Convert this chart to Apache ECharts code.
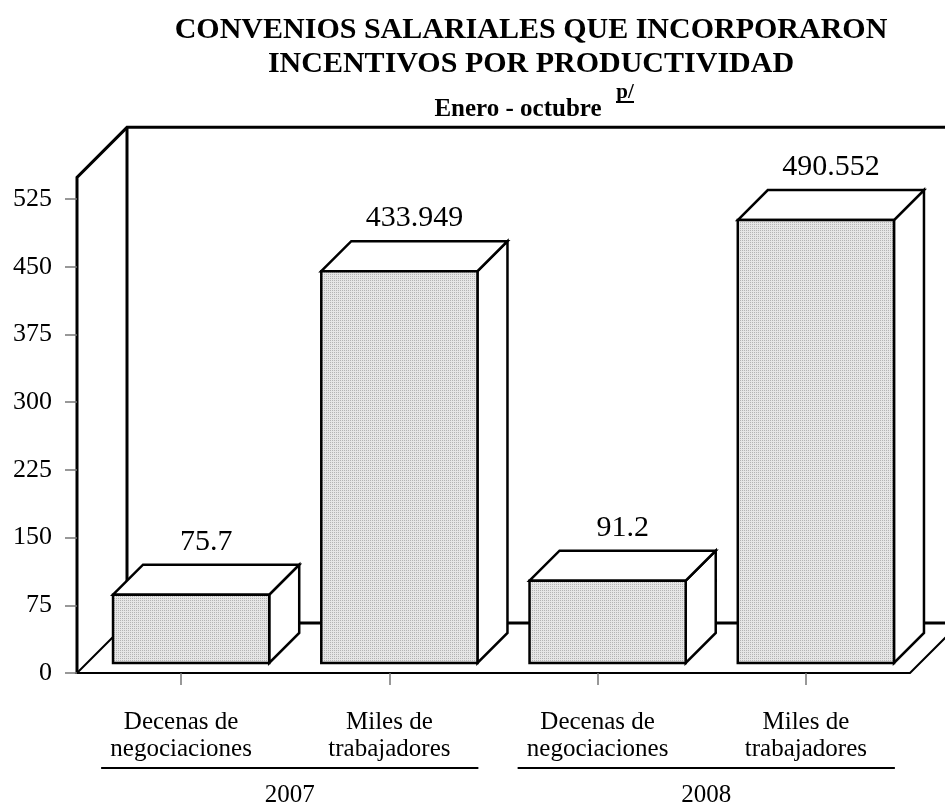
<!DOCTYPE html>
<html>
<head>
<meta charset="utf-8">
<script src="https://cdn.jsdelivr.net/npm/echarts@6/dist/echarts.min.js"></script>
<style>
  html, body { margin: 0; padding: 0; background: #fff; }
  #chart { width: 945px; height: 804px; }
</style>
</head>
<body>
<div id="chart"></div>
<script>
  // datos
  const categories = ['Decenas de\nnegociaciones', 'Miles de\ntrabajadores', 'Decenas de\nnegociaciones', 'Miles de\ntrabajadores']
  const values = [75.7, 433.949, 91.2, 490.552]
  const years = ['2007', '2008']
  const yMax = 525
  const yStep = 75

  const FONT = '"Liberation Serif", "Times New Roman", serif'
  const DEPTH = 50      // profundidad del piso / pared
  const BAR_OFF = 10    // la barra empieza un poco adentro del piso
  const BAR_DEPTH = 30
  const WALL_TOP = 549

  // textura punteada de las barras
  function makePattern () {
    let c = document.createElement('canvas')
    c.width = 2
    c.height = 2
    let ctx = c.getContext('2d')
    ctx.fillStyle = '#e6e6e6'
    ctx.fillRect(0, 0, 2, 2)
    ctx.fillStyle = '#b4b4b4'
    ctx.fillRect(0, 0, 1, 1)
    return c
  }
  const pattern = { image: makePattern(), repeat: 'repeat' }

  function renderBar (params, api) {
    let i = api.value(0)
    let v = api.value(1)
    let base = api.coord([i, 0])
    let top = api.coord([i, v])
    let bw = api.size([1, 0])[0] * 0.75
    let x0 = base[0] - bw / 2 + BAR_OFF
    let x1 = x0 + bw
    let yb = base[1] - BAR_OFF
    let yt = top[1] - BAR_OFF
    let d = BAR_DEPTH
    let line = { stroke: '#000', lineWidth: 2.5, lineJoin: 'miter' }
    return {
      type: 'group',
      children: [
        {
          type: 'polygon',
          shape: { points: [[x1, yt], [x1 + d, yt - d], [x1 + d, yb - d], [x1, yb]] },
          style: Object.assign({ fill: '#fff' }, line)
        },
        {
          type: 'polygon',
          shape: { points: [[x0, yt], [x0 + d, yt - d], [x1 + d, yt - d], [x1, yt]] },
          style: Object.assign({ fill: '#fff' }, line)
        },
        {
          type: 'rect',
          shape: { x: x0, y: yt, width: bw, height: yb - yt },
          style: Object.assign({ fill: pattern }, line)
        },
        {
          type: 'text',
          x: x0 + bw / 2 + d / 2,
          y: yt - d - 23,
          style: {
            text: String(v),
            font: '30px ' + FONT,
            fill: '#000',
            align: 'center',
            verticalAlign: 'middle',
            textAlign: 'center',
            textVerticalAlign: 'middle'
          }
        }
      ]
    }
  }

  let chart = echarts.init(document.getElementById('chart'))
  chart.setOption({
    backgroundColor: '#fff',
    animation: false,
    grid: { left: 77, right: 35, top: 199, bottom: 131 },
    xAxis: {
      type: 'category',
      data: categories,
      axisLine: { show: false },
      axisTick: { show: true, alignWithLabel: true, length: 12, lineStyle: { color: '#777', width: 1.5 } },
      axisLabel: { color: '#000', fontFamily: FONT, fontSize: 25, lineHeight: 27, margin: 36 },
      splitLine: { show: false }
    },
    yAxis: {
      type: 'value',
      min: 0,
      max: yMax,
      interval: yStep,
      axisLine: { show: false },
      axisTick: { show: true, length: 12, lineStyle: { color: '#777', width: 1.5 } },
      axisLabel: { color: '#000', fontFamily: FONT, fontSize: 26, margin: 25 },
      splitLine: { show: false }
    },
    series: [{
      type: 'custom',
      renderItem: renderBar,
      data: values.map((v, i) => [i, v]),
      z: 5
    }]
  })

  // paredes, piso, títulos y años
  const cx = i => chart.convertToPixel({ xAxisIndex: 0 }, i)
  const cy = v => chart.convertToPixel({ yAxisIndex: 0 }, v)
  let band = cx(1) - cx(0)
  let xL = cx(0) - band / 2
  let xR = cx(categories.length - 1) + band / 2
  let y0 = cy(0)
  let yT = cy(WALL_TOP)
  let D = DEPTH
  let wall = { stroke: '#000', lineWidth: 3, fill: null }
  let floor = { stroke: '#000', lineWidth: 2, fill: null }

  let graphics = [
    { type: 'polyline', shape: { points: [[xL, y0], [xL, yT], [xL + D, yT - D], [xR + D + 20, yT - D]] }, style: wall },
    { type: 'polyline', shape: { points: [[xL + D, yT - D], [xL + D, y0 - D], [xR + D + 20, y0 - D]] }, style: wall },
    { type: 'polyline', shape: { points: [[xL + D, y0 - D], [xL, y0], [xR, y0], [xR + D, y0 - D]] }, style: floor },
    {
      type: 'text', x: 531, y: 30,
      style: { text: 'CONVENIOS SALARIALES QUE INCORPORARON', font: 'bold 30px ' + FONT, fill: '#000', align: 'center', verticalAlign: 'middle', textAlign: 'center', textVerticalAlign: 'middle' }
    },
    {
      type: 'text', x: 531, y: 64,
      style: { text: 'INCENTIVOS POR PRODUCTIVIDAD', font: 'bold 30px ' + FONT, fill: '#000', align: 'center', verticalAlign: 'middle', textAlign: 'center', textVerticalAlign: 'middle' }
    },
    {
      type: 'text', x: 518, y: 110,
      style: { text: 'Enero - octubre', font: 'bold 25px ' + FONT, fill: '#000', align: 'center', verticalAlign: 'middle', textAlign: 'center', textVerticalAlign: 'middle' }
    },
    {
      type: 'text', x: 625, y: 93,
      style: { text: 'p/', font: 'bold 21px ' + FONT, fill: '#000', align: 'center', verticalAlign: 'middle', textAlign: 'center', textVerticalAlign: 'middle' }
    },
    { type: 'line', shape: { x1: 616, y1: 102, x2: 634, y2: 102 }, style: { stroke: '#000', lineWidth: 2 } }
  ]

  years.forEach((yr, g) => {
    let left = cx(2 * g) - 80
    let right = cx(2 * g + 1) + 89
    graphics.push({ type: 'line', shape: { x1: left, y1: y0 + 95, x2: right, y2: y0 + 95 }, style: { stroke: '#000', lineWidth: 2 } })
    graphics.push({
      type: 'text', x: (left + right) / 2, y: y0 + 122,
      style: { text: yr, font: '25px ' + FONT, fill: '#000', align: 'center', verticalAlign: 'middle', textAlign: 'center', textVerticalAlign: 'middle' }
    })
  })

  chart.setOption({ graphic: { elements: graphics } })
</script>
</body>
</html>
